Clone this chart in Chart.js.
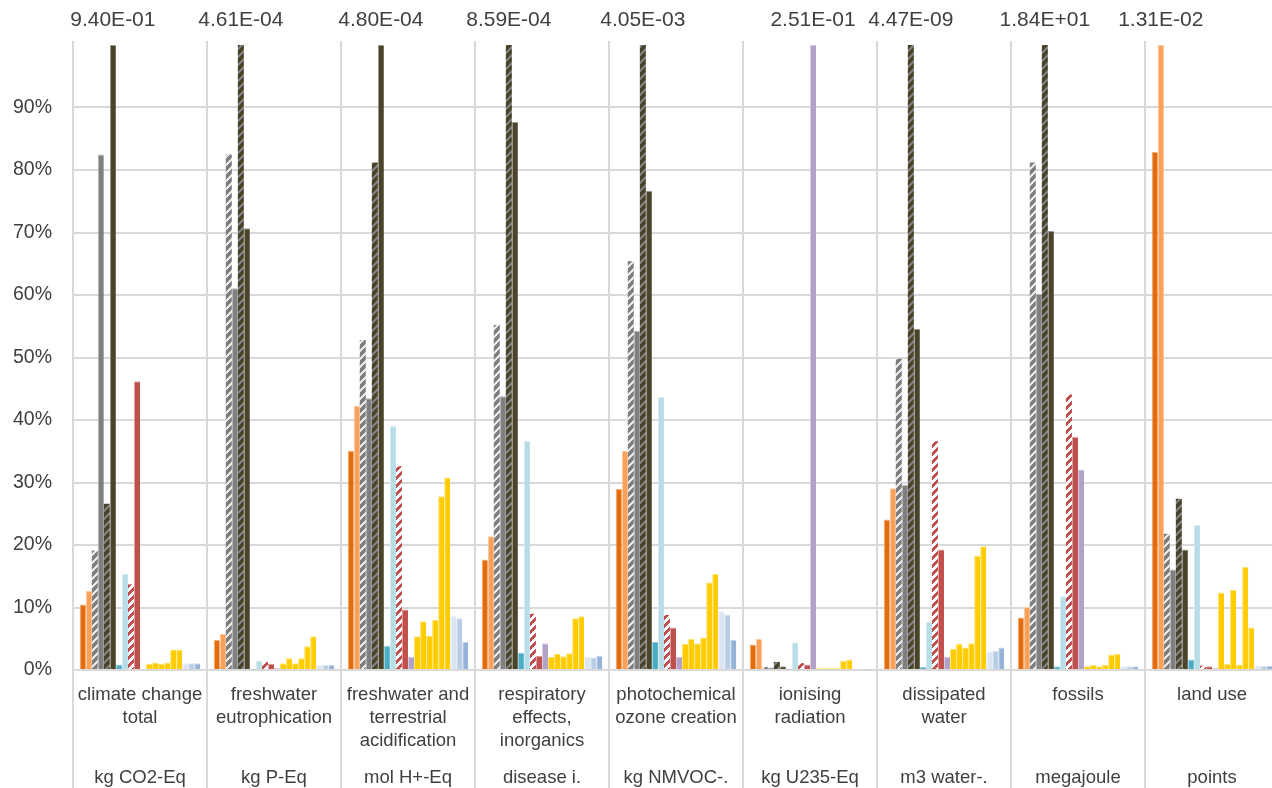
<!DOCTYPE html>
<html>
<head>
<meta charset="utf-8">
<title>Impact categories</title>
<script src="https://cdn.jsdelivr.net/npm/chart.js@4.4.1/dist/chart.umd.min.js"></script>
<style>
  html, body { margin: 0; padding: 0; background: #ffffff; overflow: hidden; }
  canvas { display: block; }
</style>
</head>
<body>
<canvas id="chart" width="1280" height="788"></canvas>
<script>
// Impact categories (name lines) and their units
const categoryNames = [
  ['climate change', 'total'],
  ['freshwater', 'eutrophication'],
  ['freshwater and', 'terrestrial', 'acidification'],
  ['respiratory', 'effects,', 'inorganics'],
  ['photochemical', 'ozone creation'],
  ['ionising', 'radiation'],
  ['dissipated', 'water'],
  ['fossils'],
  ['land use']
];
const categoryUnits = ['kg CO2-Eq', 'kg P-Eq', 'mol H+-Eq', 'disease i.', 'kg NMVOC-.', 'kg U235-Eq', 'm3 water-.', 'megajoule', 'points'];

// Absolute result of the highest scenario in each category (= 100 %)
const referenceValues = [9.40e-1, 4.61e-4, 4.80e-4, 8.59e-4, 4.05e-3, 2.51e-1, 4.47e-9, 1.84e1, 1.31e-2];

// Relative results per scenario (share of the category maximum, %)
const s01 = [10.5, 4.8, 35.1, 17.7, 29.0, 4.1, 24.1, 8.4, 82.9];
const s02 = [12.7, 5.8, 42.3, 21.4, 35.1, 5.0, 29.1, 10.1, 100];
const s03 = [19.1, 82.5, 52.8, 55.2, 65.4, 0.5, 49.8, 81.2, 21.8];
const s04 = [82.5, 61.1, 43.5, 43.8, 54.3, 0.4, 29.6, 60.2, 16.1];
const s05 = [26.6, 100, 81.2, 100, 100, 1.3, 100, 100, 27.4];
const s06 = [100, 70.7, 100, 87.7, 76.7, 0.6, 54.6, 70.3, 19.3];
const s07 = [0.9, 0.1, 3.9, 2.8, 4.5, 0.1, 0.5, 0.6, 1.7];
const s08 = [15.4, 1.5, 39.1, 36.7, 43.7, 4.4, 7.7, 11.8, 23.2];
const s09 = [13.7, 1.3, 32.6, 9.0, 8.8, 1.1, 36.6, 44.1, 0.7];
const s10 = [46.2, 1.0, 9.7, 2.3, 6.8, 0.9, 19.3, 37.3, 0.6];
const s11 = [0.2, 0.3, 2.1, 4.3, 2.1, 100, 2.1, 32.1, 0.3];
const s12 = [1.0, 1.1, 5.4, 2.1, 4.2, 0.3, 3.4, 0.6, 12.4];
const s13 = [1.2, 1.9, 7.8, 2.6, 5.0, 0.3, 4.2, 0.8, 1.0];
const s14 = [1.0, 1.1, 5.5, 2.2, 4.3, 0.3, 3.6, 0.6, 12.8];
const s15 = [1.2, 1.9, 8.0, 2.7, 5.2, 0.3, 4.3, 0.8, 0.9];
const s16 = [3.3, 3.8, 27.8, 8.3, 14.0, 1.5, 18.3, 2.5, 16.5];
const s17 = [3.3, 5.4, 30.8, 8.6, 15.4, 1.7, 19.8, 2.6, 6.8];
const s18 = [1.1, 0.8, 8.7, 2.1, 9.4, 0.1, 3.0, 0.6, 0.7];
const s19 = [1.1, 0.8, 8.3, 2.0, 8.9, 0.1, 3.1, 0.6, 0.7];
const s20 = [1.1, 0.8, 4.5, 2.3, 4.8, 0.1, 3.6, 0.6, 0.7];

const seriesValues = [s01, s02, s03, s04, s05, s06, s07, s08, s09, s10,
                      s11, s12, s13, s14, s15, s16, s17, s18, s19, s20];
const seriesNames = seriesValues.map((_, i) => 'Scenario ' + (i + 1));

// Tick labels of the value axis
const tickLabels = ['0%', '10%', '20%', '30%', '40%', '50%', '60%', '70%', '80%', '90%'];

// Diagonal stripe fill (wide upward diagonal)
function stripes(fg, bg, band) {
  const c = document.createElement('canvas');
  c.width = 8; c.height = 8;
  const g = c.getContext('2d');
  for (let y = 0; y < 8; y++) {
    for (let x = 0; x < 8; x++) {
      g.fillStyle = ((x + y) % 8) < band ? fg : bg;
      g.fillRect(x, y, 1, 1);
    }
  }
  return g.createPattern(c, 'repeat');
}

// Lighter tint of a hex colour, used for the thin bar outlines
function tint(hex, k) {
  const n = parseInt(hex.slice(1), 16);
  const ch = [(n >> 16) & 255, (n >> 8) & 255, n & 255].map(v => Math.round(v + (255 - v) * k));
  return 'rgb(' + ch.join(',') + ')';
}

const fills = [
  '#E46C0A',
  '#F9A05A',
  stripes('#7F7F7F', '#E8E8E8', 5),
  '#808080',
  stripes('#4A452A', '#7F7F7F', 5),
  '#4A452A',
  '#4BACC6',
  '#B7DEE8',
  stripes('#C0504D', '#FFFFFF', 4),
  '#C0504D',
  '#B3A2C7',
  '#FFCC00', '#FFCC00', '#FFCC00', '#FFCC00', '#FFCC00', '#FFCC00',
  '#DCE6F2',
  '#B9CDE5',
  '#95B3D7'
];

const FONT = '"Liberation Sans", Arial, sans-serif';
const TEXT = '#404040';
const GRID = '#D9D9D9';

function sci(v) {
  const [m, e] = v.toExponential(2).split('e');
  const n = parseInt(e, 10);
  const sign = n < 0 ? '-' : '+';
  const abs = Math.abs(n);
  return m + 'E' + sign + (abs < 10 ? '0' : '') + abs;
}

// Category dividers, category/unit labels and the 100 % value labels
const decorations = {
  id: 'decorations',
  beforeDatasetsDraw(chart) {
    const { ctx, chartArea, scales } = chart;
    const x = scales.x;
    const n = categoryNames.length;
    const w = (x.right - x.left) / n;
    ctx.save();
    ctx.strokeStyle = GRID;
    ctx.lineWidth = 2;
    for (let k = 0; k <= n; k++) {
      const px = Math.round(x.left + k * w);
      ctx.beginPath();
      ctx.moveTo(px, chartArea.top - 4);
      ctx.lineTo(px, chart.height);
      ctx.stroke();
    }
    ctx.restore();
  },
  afterDraw(chart) {
    const { ctx, chartArea, scales } = chart;
    const x = scales.x;
    ctx.save();
    ctx.fillStyle = TEXT;
    ctx.textAlign = 'center';
    ctx.textBaseline = 'middle';
    ctx.font = '18.5px ' + FONT;
    categoryNames.forEach((lines, i) => {
      const cx = x.getPixelForValue(i);
      lines.forEach((t, j) => ctx.fillText(t, cx, chartArea.bottom + 25 + j * 23));
      ctx.fillText(categoryUnits[i], cx, chartArea.bottom + 108);
    });
    // value of the tallest bar above each category
    ctx.font = '21px ' + FONT;
    categoryNames.forEach((_, i) => {
      let best = 0;
      seriesValues.forEach((s, d) => { if (s[i] > seriesValues[best][i]) best = d; });
      const bar = chart.getDatasetMeta(best).data[i];
      ctx.fillText(sci(referenceValues[i]), bar.x, 20);
    });
    ctx.restore();
  }
};

new Chart(document.getElementById('chart'), {
  type: 'bar',
  data: {
    labels: categoryNames.map(l => l.join(' ')),
    datasets: seriesValues.map((vals, i) => {
      const solid = typeof fills[i] === 'string';
      return {
        label: seriesNames[i],
        data: vals.map(v => v / 100),
        backgroundColor: fills[i],
        borderColor: solid ? tint(fills[i], 0.45) : 'rgba(0,0,0,0)',
        borderWidth: solid ? { left: 1, top: 1, right: 0, bottom: 0 } : 0,
        borderSkipped: 'start',
        categoryPercentage: 0.9,
        barPercentage: 1.0
      };
    })
  },
  options: {
    responsive: false,
    devicePixelRatio: 1,
    animation: false,
    layout: { padding: { top: 45, right: 1, bottom: 0, left: 0 } },
    plugins: {
      legend: { display: false },
      tooltip: { enabled: false }
    },
    scales: {
      x: {
        grid: { display: false },
        border: { display: false },
        ticks: { display: false },
        afterFit(s) { s.height = 118; }
      },
      y: {
        min: 0,
        max: 1,
        afterFit(s) { s.width = 73; },
        border: { display: false },
        grid: {
          drawTicks: false,
          lineWidth: 2,
          color: c => (c.tick && c.tick.value > 0.999 ? 'rgba(0,0,0,0)' : GRID)
        },
        ticks: {
          stepSize: 0.1,
          padding: 21,
          color: TEXT,
          font: { family: FONT, size: 19.5 },
          callback: (v, idx) => (idx < tickLabels.length ? tickLabels[idx] : '')
        }
      }
    }
  },
  plugins: [decorations]
});
</script>
</body>
</html>
